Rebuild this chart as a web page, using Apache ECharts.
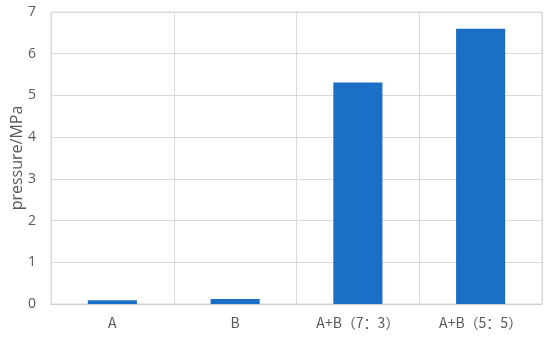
<!DOCTYPE html>
<html><head><meta charset="utf-8">
<script src="https://cdn.jsdelivr.net/npm/echarts@6/dist/echarts.min.js"></script>
<style>html,body{margin:0;padding:0;background:#fff}#c{width:550px;height:340px}</style>
</head><body><div id="c"></div>
<script>
const categories = ['A', 'B', 'A+B（7：3）', 'A+B（5：5）'];
const pressure = [0.09, 0.12, 5.31, 6.6];
const yTicks = [0, 1, 2, 3, 4, 5, 6, 7];

const chart = echarts.init(document.getElementById('c'));
chart.setOption({
  animation: false,
  grid: {left: 51, right: 8, top: 12, bottom: 36, show: true, borderColor: '#d9d9d9', borderWidth: 1, containLabel: false, outerBoundsMode: 'none'},
  xAxis: {
    type: 'category', data: categories,
    axisLine: {lineStyle: {color: '#d0d0d0'}},
    axisTick: {show: false},
    splitLine: {show: true, lineStyle: {color: '#d9d9d9'}},
    axisLabel: {color: '#595959', fontSize: 14, margin: 12, fontFamily: 'Noto Sans CJK SC, sans-serif', interval: 0}
  },
  yAxis: {
    type: 'value', min: yTicks[0], max: yTicks[yTicks.length-1], interval: 1,
    name: 'pressure/MPa', nameLocation: 'middle', nameGap: 26, nameRotate: 90, nameMoveOverlap: false,
    nameTextStyle: {color: '#595959', fontSize: 16, fontFamily: 'Open Sans, sans-serif'},
    axisLine: {show: true, lineStyle: {color: '#d9d9d9'}},
    axisTick: {show: false},
    splitLine: {lineStyle: {color: '#d9d9d9'}},
    axisLabel: {color: '#595959', fontSize: 14, margin: 15, fontFamily: 'Open Sans, sans-serif'}
  },
  series: [{
    type: 'bar', data: pressure, barWidth: '40%',
    itemStyle: {color: '#1C6FC7'}
  }]
});
</script></body></html>
